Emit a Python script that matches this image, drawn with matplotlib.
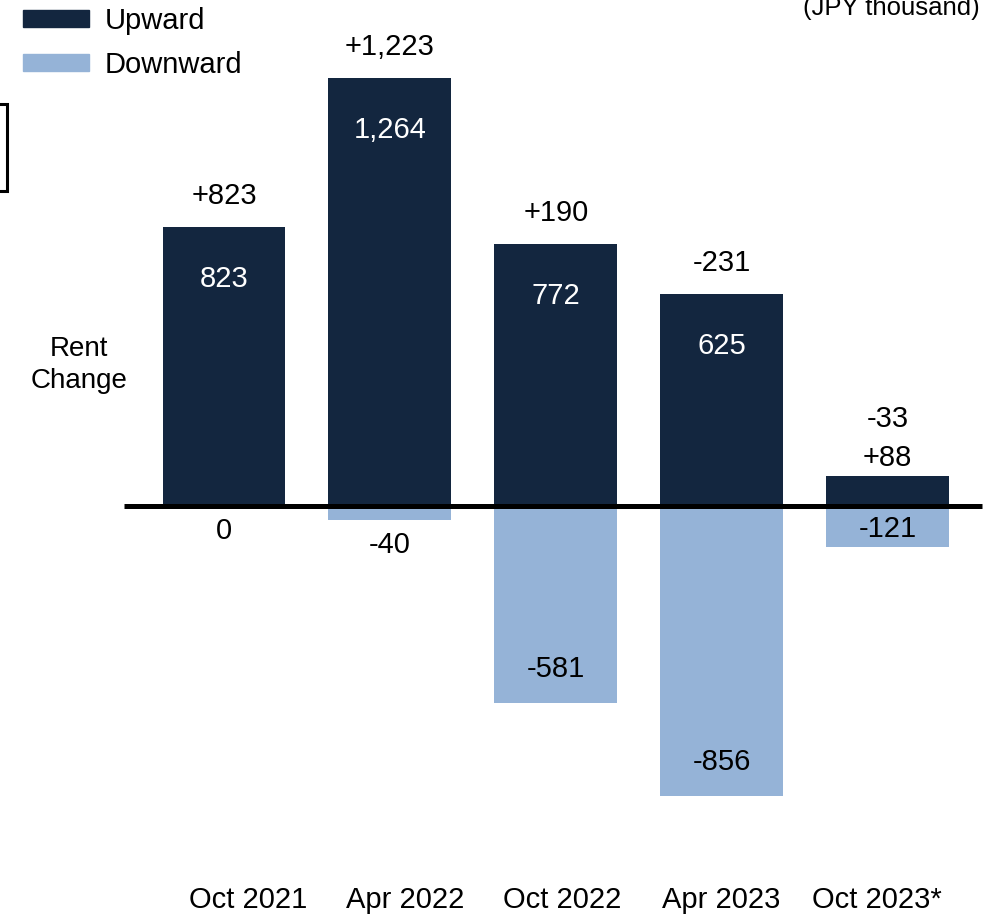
import matplotlib
matplotlib.use("Agg")
import matplotlib.pyplot as plt
from matplotlib.patches import Rectangle

plt.rcParams['font.family'] = ['Liberation Sans', 'DejaVu Sans']

# ---- data ----
periods = ["Oct 2021", "Apr 2022", "Oct 2022", "Apr 2023", "Oct 2023*"]
upward = [823, 1264, 772, 625, 88]
downward = [0, -40, -581, -856, -121]
net_change = [823, 1223, 190, -231, -33]

# ---- style ----
DARK = "#13263F"
LIGHT = "#95B3D7"
FS = 21

W, H = 986, 917
fig = plt.figure(figsize=(W / 100, H / 100), dpi=100)
ax = fig.add_axes([0, 0, 1, 1])
ax.axis("off")

# map layout: bar centers spaced ~165.9 px, first at 224 px; baseline at 506 px from top
px_per_cat = 165.9
px_per_unit = 0.339
ax.set_xlim(-224 / px_per_cat, (W - 224) / px_per_cat)
ax.set_ylim(-(H - 506) / px_per_unit, 506 / px_per_unit)

x = list(range(len(periods)))
bw = 0.741
ax.bar(x, upward, width=bw, color=DARK, zorder=2)
ax.bar(x, downward, width=bw, color=LIGHT, zorder=2)

# zero line
x0 = (124 - 224) / px_per_cat
x1 = (982 - 224) / px_per_cat
ax.plot([x0, x1], [0, 0], color="black", lw=3.6, solid_capstyle="butt", zorder=3)

PX = 0.72  # points per pixel
for i in x:
    u, d, n = upward[i], downward[i], net_change[i]
    # upward labels
    if u >= 200:
        ax.annotate(f"{u:,}", (i, u), xytext=(0, -52 * PX), textcoords="offset points",
                    ha="center", va="center", fontsize=FS, color="white", zorder=4)
        ax.annotate(f"{n:+,}", (i, u), xytext=(0, 31 * PX), textcoords="offset points",
                    ha="center", va="center", fontsize=FS, color="black", zorder=4)
    else:
        ax.annotate(f"{u:+,}", (i, u), xytext=(0, 18 * PX), textcoords="offset points",
                    ha="center", va="center", fontsize=FS, color="black", zorder=4)
        ax.annotate(f"{n:+,}", (i, u), xytext=(0, 57 * PX), textcoords="offset points",
                    ha="center", va="center", fontsize=FS, color="black", zorder=4)
    # downward labels
    if abs(d) < 60:
        ax.annotate(f"{d:,}", (i, d), xytext=(0, -25 * PX), textcoords="offset points",
                    ha="center", va="center", fontsize=FS, color="black", zorder=4)
    elif abs(d) < 200:
        ax.annotate(f"{d:,}", (i, d / 2), xytext=(0, -2 * PX), textcoords="offset points",
                    ha="center", va="center", fontsize=FS, color="black", zorder=4)
    else:
        ax.annotate(f"{d:,}", (i, d), xytext=(0, 34 * PX), textcoords="offset points",
                    ha="center", va="center", fontsize=FS, color="black", zorder=4)

# category labels (placed slightly offset from bar centers as in the reference)
label_px = [248, 405, 562, 721, 877]
for lab, p in zip(periods, label_px):
    fig.text(p / W, 1 - 900 / H, lab, ha="center", va="center", fontsize=FS)

# legend
for j, (lab, col) in enumerate([("Upward", DARK), ("Downward", LIGHT)]):
    top = 10 + j * 44
    fig.patches.append(Rectangle((23 / W, 1 - (top + 17) / H), 66 / W, 17 / H,
                                 transform=fig.transFigure, color=col, zorder=5))
    fig.text(105 / W, 1 - (top + 11) / H, lab, ha="left", va="center", fontsize=FS)

# unit note (partly cut at the top edge, as in the reference)
fig.text(980 / W, 1 - 15 / H, "(JPY thousand)", ha="right", va="baseline", fontsize=18.5)

# axis caption
fig.text(79 / W, 1 - 365 / H, "Rent\nChange", ha="center", va="center", fontsize=20,
         linespacing=1.32)

# partially visible box at left edge
fig.patches.append(Rectangle((-40 / W, 1 - 190.5 / H), 46.5 / W, 86 / H,
                             transform=fig.transFigure, fill=False, edgecolor="black",
                             lw=2.2, zorder=5))

fig.savefig("out.png", dpi=100)
